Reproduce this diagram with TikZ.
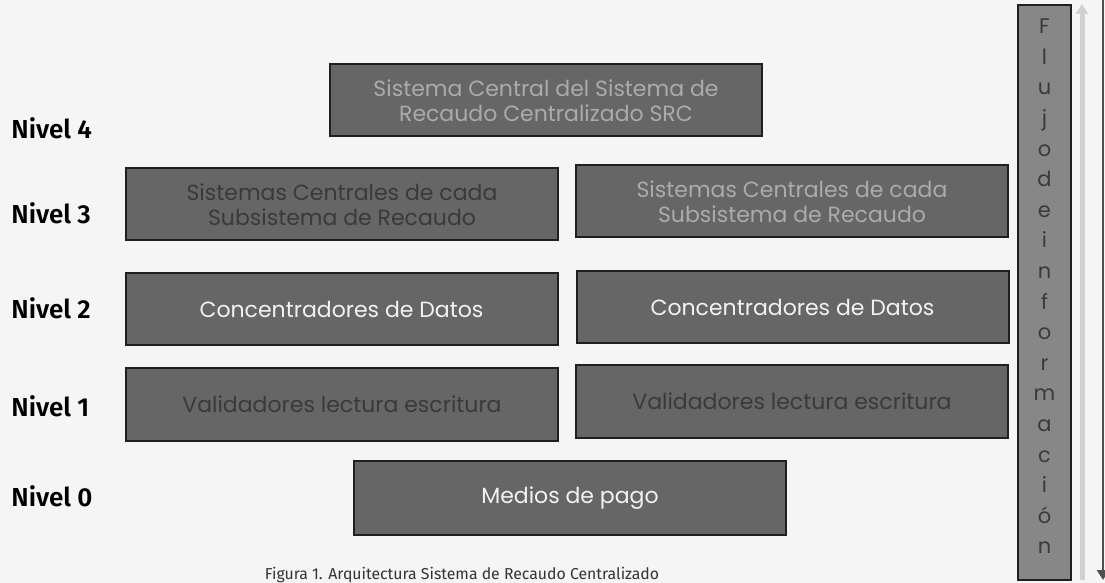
\documentclass[tikz,border=0pt]{standalone}
\usepackage{fontspec}
\setmainfont{Fira Sans}
\newfontfamily\boxfont{Poppins}
\newfontfamily\lvlfont{Fira Sans SemiBold}
\usetikzlibrary{arrows.meta}
\definecolor{bgc}{HTML}{F5F5F5}
\definecolor{boxfill}{HTML}{666666}
\definecolor{boxline}{HTML}{1F1F1F}
\definecolor{barfill}{HTML}{878787}
\definecolor{darktext}{HTML}{3A3A3A}
\definecolor{lighttext}{HTML}{F2F2F2}
\definecolor{midtext}{HTML}{ABABAB}
\definecolor{arrowlight}{HTML}{D0D0D0}
\definecolor{arrowdark}{HTML}{505050}
\definecolor{captext}{HTML}{333333}
\tikzset{
  lvlbox/.style={draw=boxline, line width=1pt, fill=boxfill, rectangle,
    minimum width=216pt, minimum height=36pt, inner sep=0pt, align=center,
    font=\boxfont\fontsize{11}{12.5}\selectfont},
  lvllabel/.style={anchor=west, inner sep=0pt, text=black,
    font=\lvlfont\fontsize{13}{15}\selectfont},
  vbar/.style={draw=boxline, line width=1pt, fill=barfill, rectangle,
    minimum width=26.5pt, minimum height=287.5pt, inner sep=0pt, align=center,
    text=darktext, font=\boxfont\fontsize{10.5}{15.3}\selectfont},
}
\begin{document}
\begin{tikzpicture}[x=0.5pt, y=-0.5pt]
\useasboundingbox[fill=bgc] (0,0) rectangle (1105,583);
% level labels
\node[lvllabel] (n4) at (11,128) {Nivel 4};
\node[lvllabel] (n3) at (11,213) {Nivel 3};
\node[lvllabel] (n2) at (11,308) {Nivel 2};
\node[lvllabel] (n1) at (11,406) {Nivel 1};
\node[lvllabel] (n0) at (11,496) {Nivel 0};
% boxes
\node[lvlbox, text=midtext] (src) at (546,100.5) {Sistema Central del Sistema de\\Recaudo Centralizado SRC};
\node[lvlbox, text=darktext] (sc1) at (342,204.5) {Sistemas Centrales de cada\\Subsistema de Recaudo};
\node[lvlbox, text=midtext] (sc2) at (792,201.5) {Sistemas Centrales de cada\\Subsistema de Recaudo};
\node[lvlbox, text=lighttext] (cd1) at (341.5,309) {Concentradores de Datos};
\node[lvlbox, text=lighttext] (cd2) at (792.5,307) {Concentradores de Datos};
\node[lvlbox, text=darktext] (vl1) at (342,404.5) {Validadores lectura escritura};
\node[lvlbox, text=darktext] (vl2) at (792,401.5) {Validadores lectura escritura};
\node[lvlbox, text=lighttext, minimum height=37pt] (mp) at (570,498) {Medios de pago};
% vertical bar
\node[vbar, text depth=6pt] (flujo) at (1044.5,292.5) {F\\l\\u\\j\\o\\d\\e\\i\\n\\f\\o\\r\\m\\a\\c\\i\\ó\\n};
% arrows
\coordinate (aupbot) at (1082,580);
\coordinate (auptop) at (1082,4);
\draw[arrowlight, line width=2.5pt, -{Triangle[length=5pt,width=6pt]}] (aupbot) -- (auptop);
\coordinate (adntop) at (1103,0);
\coordinate (adnbot) at (1103,580);
\draw[arrowdark, line width=1.2pt, -{Triangle[length=5pt,width=6pt]}] (adntop) -- (adnbot);
% caption
\node[inner sep=0pt, text=captext, font=\fontsize{7.9}{9}\selectfont] (cap) at (462,575) {Figura 1. Arquitectura Sistema de Recaudo Centralizado};
\end{tikzpicture}
\end{document}
